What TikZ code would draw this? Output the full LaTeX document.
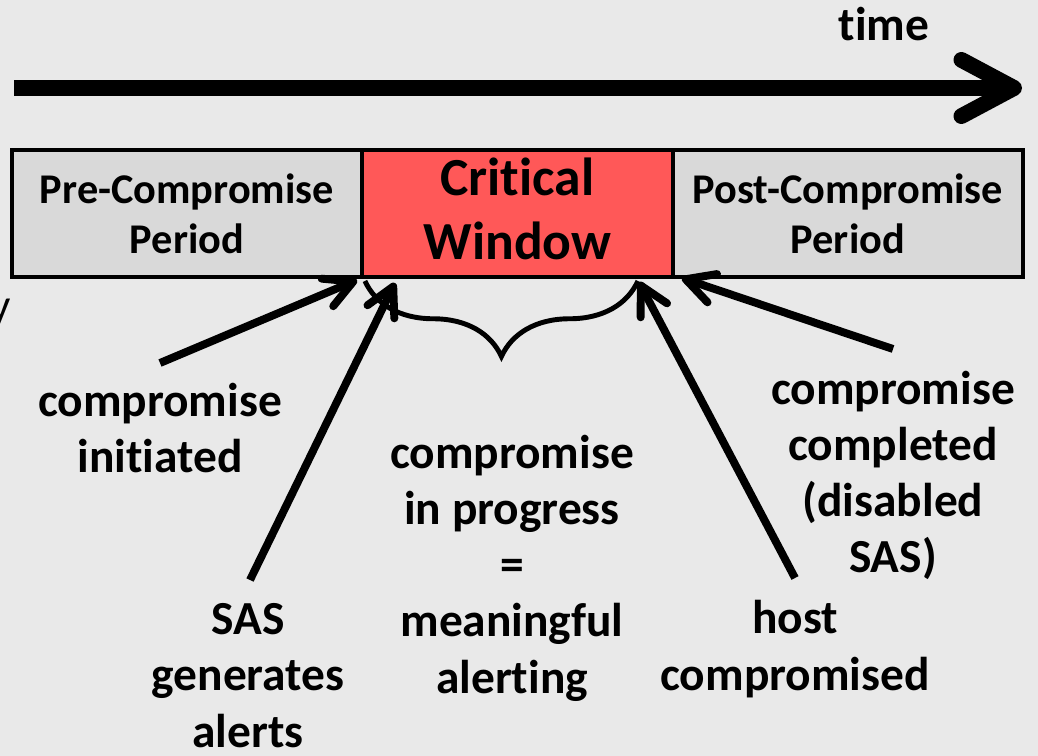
\documentclass[tikz,border=0pt]{standalone}
\usepackage{fontspec}
\setmainfont{Carlito}[Ligatures={NoCommon}]
\definecolor{paper}{RGB}{233,233,233}
\definecolor{periodgrey}{RGB}{217,217,217}
\definecolor{critred}{RGB}{255,88,88}
\usetikzlibrary{arrows.meta}
\usetikzlibrary{positioning}
\usetikzlibrary{decorations.pathreplacing}
\tikzstyle{period}=[draw=black, line width=2.3pt, fill=periodgrey, minimum width=7cm, minimum height=2.54cm, inner sep=0pt, outer sep=0pt, align=center, font=\bfseries\fontsize{24.1}{28.5}\selectfont]
\tikzstyle{note}=[inner sep=0pt, align=center, anchor=base, font=\bfseries\fontsize{27}{31.9}\selectfont]
\tikzstyle{pointer}=[line width=4.5pt, -{Straight Barb[length=16pt, width=17pt, round]}]

\begin{document}
\begin{tikzpicture}[x=0.02cm, y=-0.02cm]
    % paper background
    \fill [paper] (0,0) rectangle (1038,756);
    \useasboundingbox (0,0) rectangle (1038,756);
    \node [anchor=base east, inner sep=0pt, font=\fontsize{25.6}{30}\selectfont] (cut) at (11,321) {y};

    % time axis
    \coordinate (tstart) at (14,88);
    \coordinate (tend) at (1022,88);
    \draw [line width=9pt, -{Straight Barb[length=30pt, width=32pt, round]}] (tstart) -- (tend);
    \node [note] (time) at (884,41) {time};

    % the three periods
    \node [period] (pre) at (187,213.5) {Pre-Compromise\\Period};
    \node [period, fill=critred, minimum width=6.22cm, text depth=5.5pt, font=\bfseries\fontsize{30.5}{36.4}\selectfont, right=0pt of pre] (crit) {Critical\\Window};
    \node [period, right=0pt of crit] (post) {Post-Compromise\\Period};

    % brace under the critical window
    \draw [line width=2.8pt, decorate, decoration={brace, mirror, amplitude=43pt}]
        ([shift={(3,4)}]crit.south west) -- ([shift={(-35,4)}]crit.south east);

    % event labels (base = last line)
    \node [note] (initiated) at (160,473) {compromise\\initiated};
    \node [note] (alerts) at (248,747) {SAS\\generates\\alerts};
    \node [note] (progress) at (512,693) {compromise\\in progress\\=\\meaningful\\alerting};
    \node [note] (host) at (795,690) {host\\compromised};
    \node [note] (completed) at (893,573) {compromise\\completed\\(disabled\\SAS)};

    % pointers up to the period boundaries
    \coordinate (initiatedtail) at (160,363);
    \coordinate (alertstail) at (250,580);
    \coordinate (hosttail) at (795,578);
    \coordinate (completedtail) at (893,349);
    \draw [pointer] (initiatedtail) -- ([shift={(-5,3)}]pre.south east);
    \draw [pointer] (alertstail) -- ([shift={(33,6)}]crit.south west);
    \draw [pointer] (hosttail) -- ([shift={(-34,5)}]crit.south east);
    \draw [pointer] (completedtail) -- ([shift={(9,1)}]post.south west);
\end{tikzpicture}
\end{document}
